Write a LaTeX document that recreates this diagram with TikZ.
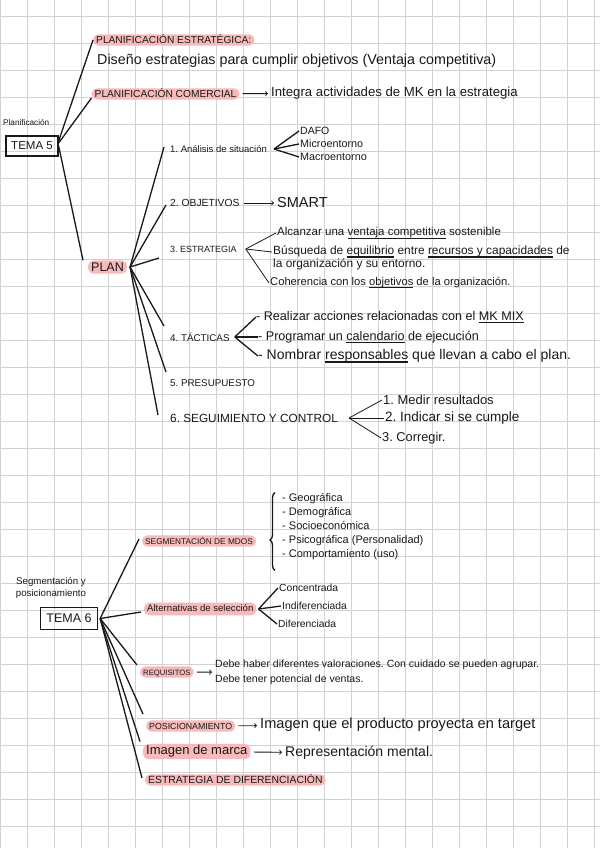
\documentclass[tikz,border=0pt]{standalone}
\usepackage{fontspec}
\setmainfont{Liberation Sans}
\usetikzlibrary{positioning,decorations.pathreplacing}

\definecolor{hl}{RGB}{247,185,185}
\definecolor{gridc}{RGB}{210,210,210}
\definecolor{ink}{RGB}{25,25,25}

\frenchspacing
\newcommand\uln[1]{\setbox0\hbox{#1}\rlap{\rule[-0.24em]{\wd0}{0.09em}}\box0\relax}

\tikzset{
  hw/.style={font=\fontsize{#1}{#1}\selectfont},
  pill/.style={fill=hl, rounded corners=5pt, inner xsep=3pt, inner ysep=1.8pt, text height=7pt, text depth=0.5pt},
  box/.style={draw=ink, line width=1.3pt, inner sep=2pt},
  br/.style={draw=ink, line width=1.3pt},
  tbr/.style={draw=ink, line width=0.8pt},
  arr/.style={draw=ink, line width=0.9pt, ->, shorten <=3pt, shorten >=2pt}
}

\begin{document}
\begin{tikzpicture}[x=1pt, y=-1pt, every node/.style={inner sep=1pt, text=ink}]
    % Page and grid
    \fill[white] (0,0) rectangle (600,848);
    \useasboundingbox (0,0) rectangle (600,848);
    \foreach \i in {0,...,22}
        \draw[gridc, line width=0.8pt] (0.7+27*\i,0) -- (0.7+27*\i,848);
    \foreach \j in {0,...,30}
        \draw[gridc, line width=0.8pt] (0,16.7+27*\j) -- (600,16.7+27*\j);

    % Tema 5
    \node[hw=8.2, anchor=west] (plt) at (2,123) {Planificación};
    \node[box, hw=11.5, minimum width=52pt, minimum height=20pt] (t5) at (32,146) {TEMA 5};

    \node[pill, hw=10.2, anchor=west] (pe) at (93,40) {PLANIFICACIÓN ESTRATÉGICA:};
    \node[hw=14.3, anchor=west] (dis) at (96,61) {Diseño estrategias para cumplir objetivos (Ventaja competitiva)};
    \node[pill, hw=10.2, anchor=west] (pc) at (91.5,94) {PLANIFICACIÓN COMERCIAL};
    \node[hw=13.2, anchor=west] (int) at (270,93) {Integra actividades de MK en la estrategia};
    \node[pill, hw=12.5, anchor=west, text height=9pt] (plan) at (88,267) {PLAN};

    \draw[br] ([yshift=5pt]t5.east) -- (pe.west);
    \draw[br] ([yshift=3pt]t5.east) -- ([yshift=-4pt]pc.west);
    \draw[br] (t5.east) -- ([xshift=-5pt]plan.north west);
    \draw[arr] (pc) -- (int);

    % Plan
    \node[hw=9.5, anchor=west] (an) at (169,149) {1. Análisis de situación};
    \node[hw=10.5, anchor=west] (dafo) at (299,131) {DAFO};
    \node[hw=10.8, anchor=west] (mic) at (299,144) {Microentorno};
    \node[hw=10.8, anchor=west] (mac) at (299,157) {Macroentorno};

    \node[hw=10.3, anchor=west] (obj) at (169,203) {2. OBJETIVOS};
    \node[hw=14.5, anchor=west] (smart) at (276,203) {SMART};

    \node[hw=9, anchor=west] (est) at (169,249) {3. ESTRATEGIA};
    \node[hw=11.5, anchor=west] (alc) at (276,233) {Alcanzar una \uln{ventaja competitiva} sostenible};
    \node[anchor=west, align=left, font=\fontsize{11.9}{13}\selectfont] (bus) at (272,258)
        {Búsqueda de \uln{equilibrio} entre \uln{recursos y capacidades} de\\ la organización y su entorno.};
    \node[hw=11.2, anchor=west] (coh) at (269,283) {Coherencia con los \uln{objetivos} de la organización.};

    \node[hw=9.8, anchor=west] (tac) at (169,337) {4. TÁCTICAS};
    \node[hw=12.6, anchor=west] (ta1) at (255,317) {- Realizar acciones relacionadas con el \uln{MK MIX}};
    \node[hw=12.6, anchor=west] (ta2) at (257,337) {- Programar un \uln{calendario} de ejecución};
    \node[hw=14, anchor=west] (ta3) at (257,356) {- Nombrar \uln{responsables} que llevan a cabo el plan.};

    \node[hw=9.8, anchor=west] (pre) at (169,383) {5. PRESUPUESTO};

    \node[hw=11.8, anchor=west] (sc) at (169,418) {6. SEGUIMIENTO Y CONTROL};
    \node[hw=13, anchor=west] (sc1) at (382,400) {1. Medir resultados};
    \node[hw=13.5, anchor=west] (sc2) at (384,418) {2. Indicar si se cumple};
    \node[hw=12.8, anchor=west] (sc3) at (381,438) {3. Corregir.};

    \foreach \n/\dx/\dy in {an/-5/2, obj/-3/-2, est/-10/-9, tac/-5/11, pre/-3/11, sc/-11/3}
        \draw[br] ([xshift=3pt]plan.east) -- ([xshift=\dx pt, yshift=\dy pt]\n.west);
    \foreach \n in {dafo,mic,mac}
        \draw[br] ([xshift=6pt]an.east) -- (\n.west);
    \draw[arr] (obj) -- (smart);
    \draw[tbr] ([xshift=8pt]est.east) -- (alc.west);
    \draw[tbr] ([xshift=8pt]est.east) -- ([yshift=6pt]bus.west);
    \draw[tbr] ([xshift=8pt]est.east) -- (coh.west);
    \foreach \n in {ta1,ta2,ta3}
        \draw[br] ([xshift=4pt]tac.east) -- ([xshift=1pt]\n.west);
    \foreach \n in {sc1,sc2,sc3}
        \draw[tbr] ([xshift=10pt]sc.east) -- (\n.west);

    % Tema 6
    \node[align=center, font=\fontsize{9.7}{12}\selectfont] (sp) at (51,588) {Segmentación y\\posicionamiento};
    \node[box, hw=12.5, minimum width=57pt, minimum height=21.5pt] (t6) at (69,618.5) {TEMA 6};

    \node[pill, hw=8.3, anchor=west] (seg) at (142,541) {SEGMENTACIÓN DE MDOS};
    \node[anchor=west, align=left, font=\fontsize{11}{14}\selectfont] (segl) at (281,527)
        {- Geográfica\\- Demográfica\\- Socioeconómica\\- Psicográfica (Personalidad)\\- Comportamiento (uso)};
    \draw[br, decorate, decoration={brace, amplitude=5pt, aspect=0.39}]
        ([xshift=-6pt, yshift=-9pt]segl.south west) -- ([xshift=-6pt]segl.north west);

    \node[pill, hw=9.6, anchor=west, text depth=2pt] (alt) at (144,609) {Alternativas de selección};
    \node[hw=10.3, anchor=west] (con) at (278,588) {Concentrada};
    \node[hw=10.3, anchor=west] (ind) at (281,606) {Indiferenciada};
    \node[hw=10.3, anchor=west] (dif) at (277,624) {Diferenciada};
    \foreach \n in {con,ind,dif}
        \draw[br] ([xshift=2pt]alt.east) -- (\n.west);

    \node[pill, hw=7.7, anchor=west] (req) at (140,672) {REQUISITOS};
    \node[anchor=west, align=left, font=\fontsize{10.5}{15}\selectfont] (reqt) at (214,672.5)
        {Debe haber diferentes valoraciones. Con cuidado se pueden agrupar.\\Debe tener potencial de ventas.};
    \draw[arr] (req) -- (reqt);

    \node[pill, hw=8.8, anchor=west] (pos) at (146,726) {POSICIONAMIENTO};
    \node[hw=14.6, anchor=west] (post) at (259,725) {Imagen que el producto proyecta en target};
    \draw[arr] (pos) -- (post);

    \node[pill, hw=13, anchor=west, text height=9pt, text depth=2.5pt] (ima) at (143,751.5) {Imagen de marca};
    \node[hw=14, anchor=west] (imat) at (284,753) {Representación mental.};
    \draw[arr] (ima) -- (imat);

    \node[pill, hw=10.4, anchor=west] (edif) at (145,780) {ESTRATEGIA DE DIFERENCIACIÓN};

    \foreach \n/\dy in {seg/2, alt/-3, req/7, pos/12, ima/10, edif/2}
        \draw[br] ([xshift=2pt]t6.east) -- ([xshift=-3pt, yshift=\dy pt]\n.west);
\end{tikzpicture}
\end{document}
